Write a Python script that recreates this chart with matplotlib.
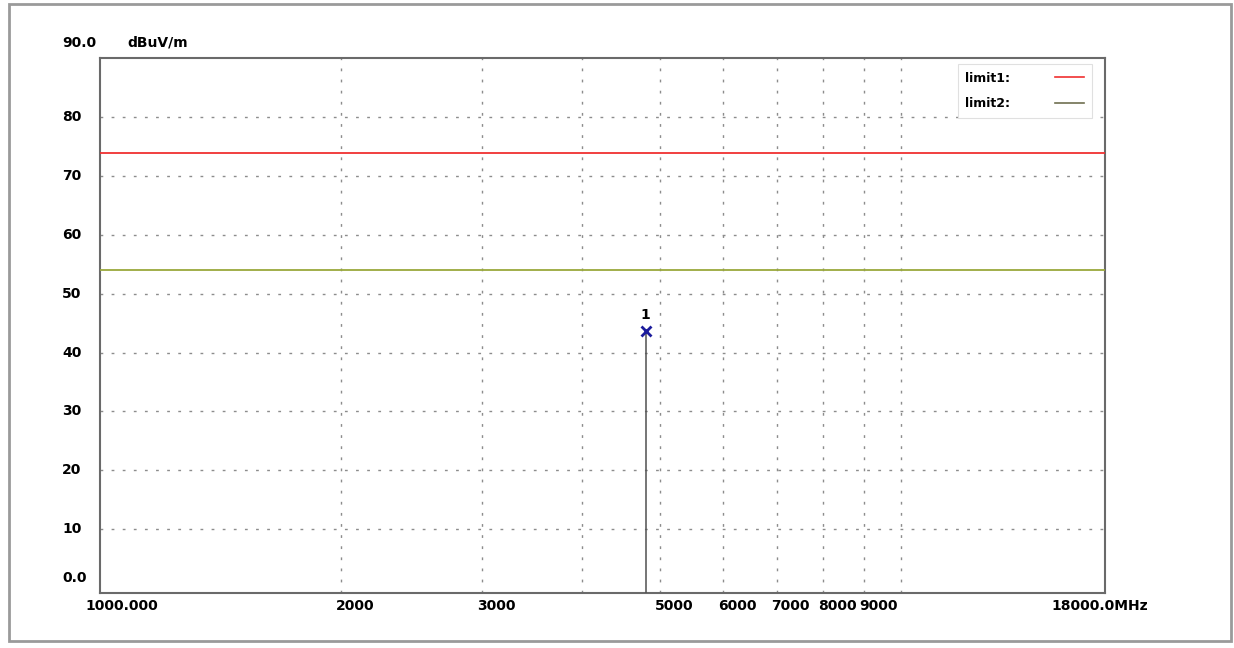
import matplotlib.pyplot as plt
from matplotlib.lines import Line2D
from matplotlib.patches import Rectangle

# data
freq_range = [1000, 18000]          # MHz
level_range = [-0.9, 90.1]          # dBuV/m
limit1 = 74.0
limit2 = 54.0
peak_freq = [4804.0]
peak_level = [43.6]
peak_names = ["1"]

x_grid = [2000, 3000, 4000, 5000, 6000, 7000, 8000, 9000, 10000]
x_tick_vals = [1000, 2000, 3000, 5000, 6000, 7000, 8000, 9000, 18000]
x_tick_text = ["1000.000", "2000", "3000", "5000", "6000", "7000", "8000", "9000", "18000.0MHz"]
y_tick_vals = [0, 10, 20, 30, 40, 50, 60, 70, 80]
y_tick_text = ["0.0", "10", "20", "30", "40", "50", "60", "70", "80"]

plt.rcParams['font.family'] = ['DejaVu Sans']
fs = 10

fig = plt.figure(figsize=(12.34, 6.48), dpi=100)
fig.patch.set_facecolor('white')
ax = fig.add_axes([100/1234, 1-593/648, 1005/1234, (593-58)/648])

ax.set_xscale('log')
ax.set_xlim(freq_range)
ax.set_ylim(level_range)

# grid
grid_kw = dict(color='#8c8c8c', linewidth=1.0, linestyle=(0, (2, 6)), zorder=1)
for g in x_grid:
    ax.axvline(g, **grid_kw)
for v in y_tick_vals[1:]:
    ax.axhline(v, **grid_kw)

# limits
ax.axhline(limit1, color='#f03030', linewidth=1.3, zorder=3)
ax.axhline(limit2, color='#9aa83c', linewidth=1.3, zorder=3)

# peak marker
ax.vlines(peak_freq, level_range[0], peak_level, color='#505050', linewidth=1.1, zorder=4)
ax.plot(peak_freq, peak_level, linestyle='none', marker='x', markersize=7,
        markeredgewidth=2, color='#1c1c9c', zorder=5)
for f, l, n in zip(peak_freq, peak_level, peak_names):
    ax.annotate(n, (f, l), xytext=(0, 7), textcoords='offset points',
                ha='center', va='bottom', fontsize=fs, fontweight='bold')

# ticks
ax.set_xticks([])
ax.xaxis.set_minor_locator(plt.NullLocator())
ax.set_yticks([])
for xv, xt in zip(x_tick_vals, x_tick_text):
    dx = -5
    if xv == x_tick_vals[0]:
        dx = -15
    elif xv == x_tick_vals[-1]:
        dx = -54
    ax.annotate(xt, (xv, 0), xycoords=('data', 'axes fraction'),
                xytext=(dx * 0.72, -6 * 0.72), textcoords='offset points',
                ha='left', va='top', fontsize=fs, fontweight='bold')
for yv, yt in zip(y_tick_vals, y_tick_text):
    dy = 10 if yv == 0 else 0
    ax.annotate(yt, (0, yv), xycoords=('axes fraction', 'data'),
                xytext=(-38 * 0.72, dy * 0.72), textcoords='offset points',
                ha='left', va='center', fontsize=fs, fontweight='bold')

fig.text(62/1234, 1-43/648, "90.0", ha='left', va='center', fontsize=fs, fontweight='bold')
fig.text(127/1234, 1-43/648, "dBuV/m", ha='left', va='center', fontsize=fs, fontweight='bold')

for s in ax.spines.values():
    s.set_color('#6a6a6a')
    s.set_linewidth(1.5)

# legend
handles = [Line2D([], [], color='#f03030', linewidth=1.2),
           Line2D([], [], color='#707050', linewidth=1.2)]
leg = ax.legend(handles, ["limit1:", "limit2:"], loc='upper right',
                bbox_to_anchor=(0.993, 1.0), markerfirst=False,
                handlelength=2.3, handletextpad=3.6, labelspacing=1.0,
                borderpad=0.6, fancybox=False, framealpha=1,
                edgecolor='#e0e0e0', prop={'size': 9, 'weight': 'bold'})
leg.get_frame().set_linewidth(0.8)

# outer frame
fig.patches.append(Rectangle((9/1234, 1-641/648), 1222/1234, 637/648,
                             transform=fig.transFigure, fill=False,
                             edgecolor='#9a9a9a', linewidth=2.0))

fig.savefig('out.png', dpi=100)
